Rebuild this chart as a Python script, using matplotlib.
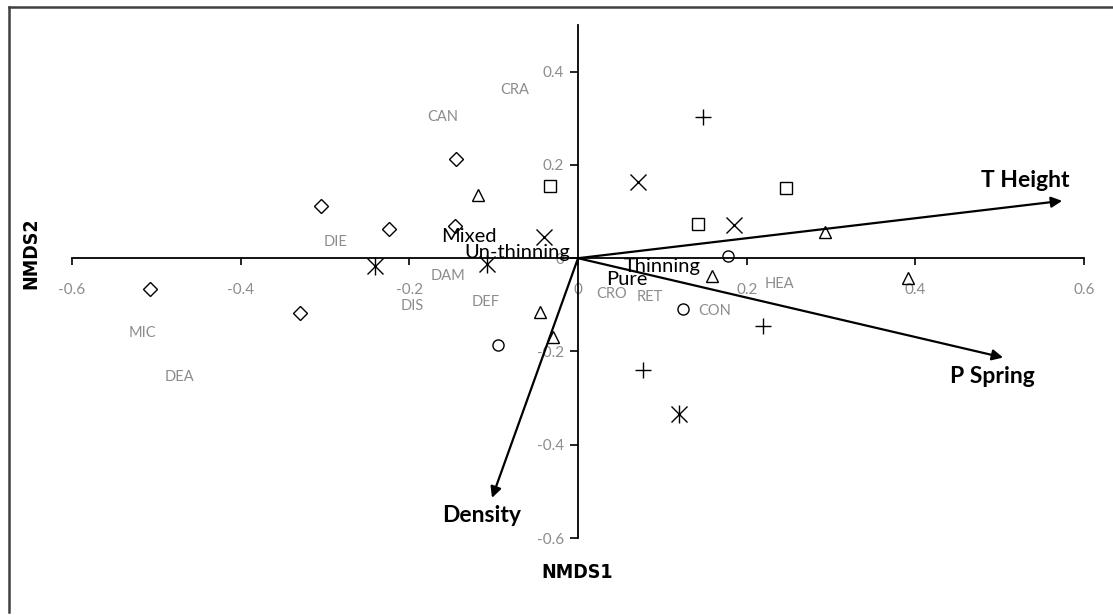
import matplotlib
matplotlib.use("Agg")
import matplotlib.pyplot as plt
from matplotlib.lines import Line2D

# site scores by group (NMDS1, NMDS2)
diamond_x = [-0.305, -0.224, -0.145, -0.146, -0.507, -0.330]
diamond_y = [0.112, 0.062, 0.213, 0.069, -0.065, -0.118]
triangle_x = [-0.119, 0.159, 0.293, 0.391, -0.045, -0.030]
triangle_y = [0.135, -0.039, 0.056, -0.043, -0.115, -0.170]
square_x = [-0.033, 0.142, 0.247]
square_y = [0.155, 0.073, 0.150]
cross_x = [0.071, 0.185, -0.040]
cross_y = [0.163, 0.071, 0.045]
plus_x = [0.148, 0.077, 0.219]
plus_y = [0.303, -0.239, -0.146]
star_x = [-0.241, -0.108, 0.120]
star_y = [-0.017, -0.013, -0.335]
circle_x = [0.178, 0.124, -0.095]
circle_y = [0.004, -0.110, -0.187]

# species scores
species = ["CRA", "CAN", "DIE", "DAM", "DIS", "DEF", "CRO", "RET", "CON", "HEA", "MIC", "DEA"]
species_x = [-0.075, -0.161, -0.288, -0.154, -0.197, -0.110, 0.040, 0.085, 0.162, 0.239, -0.517, -0.473]
species_y = [0.361, 0.303, 0.034, -0.039, -0.103, -0.094, -0.077, -0.084, -0.114, -0.056, -0.161, -0.254]

# factor centroids
factors = ["Mixed", "Un-thinning", "Thinning", "Pure"]
factor_x = [-0.130, -0.072, 0.100, 0.058]
factor_y = [0.047, 0.013, -0.017, -0.045]

# environmental vectors
env_names = ["T Height", "P Spring", "Density"]
env_x = [0.574, 0.504, -0.102]
env_y = [0.123, -0.213, -0.514]
env_lab_x = [0.530, 0.491, -0.114]
env_lab_y = [0.166, -0.254, -0.551]

grey = "#8c8c8c"
sans = ["Lato", "DejaVu Sans"]
narrow = ["Liberation Sans Narrow", "DejaVu Sans"]

fig = plt.figure(figsize=(11.13, 6.15), dpi=100)
ax = fig.add_axes([0.0647, 0.1252, 0.9093, 0.8341])
ax.set_xlim(-0.6, 0.6)
ax.set_ylim(-0.6, 0.5)

ax.spines["left"].set_position(("data", 0))
ax.spines["bottom"].set_position(("data", 0))
ax.spines["top"].set_visible(False)
ax.spines["right"].set_visible(False)
ax.spines["left"].set_linewidth(1.3)
ax.spines["bottom"].set_linewidth(1.3)

ax.set_xticks([-0.6, -0.4, -0.2, 0, 0.2, 0.4, 0.6])
ax.set_xticklabels(["-0.6", "-0.4", "-0.2", "0", "0.2", "0.4", "0.6"])
ax.set_yticks([-0.6, -0.4, -0.2, 0, 0.2, 0.4])
ax.set_yticklabels(["-0.6", "-0.4", "-0.2", "0", "0.2", "0.4"])
ax.tick_params(axis="x", direction="out", length=5, width=1.2, pad=13, labelsize=11, labelcolor=grey)
ax.tick_params(axis="y", direction="out", length=6, width=1.2, pad=4, labelsize=11, labelcolor=grey)
for t in ax.get_xticklabels() + ax.get_yticklabels():
    t.set_family(sans)

mk = dict(linestyle="none", color="black", markerfacecolor="none", markeredgewidth=1.0, zorder=3)
ax.plot(diamond_x, diamond_y, marker="D", markersize=7, **mk)
ax.plot(triangle_x, triangle_y, marker="^", markersize=9, **mk)
ax.plot(square_x, square_y, marker="s", markersize=8, **mk)
ax.plot(cross_x, cross_y, marker="x", markersize=11, **mk)
ax.plot(plus_x, plus_y, marker="+", markersize=12, **mk)
ax.plot(star_x, star_y, marker="x", markersize=11, **mk)
ax.plot(star_x, star_y, marker="|", markersize=13, **mk)
ax.plot(circle_x, circle_y, marker="o", markersize=8, **mk)

for i in range(len(species)):
    ax.text(species_x[i], species_y[i], species[i], color=grey, fontsize=10.5,
            family=sans, ha="center", va="center")

for i in range(len(factors)):
    ax.text(factor_x[i], factor_y[i], factors[i], color="black", fontsize=14.5,
            family=sans, ha="center", va="center", zorder=4)

for i in range(len(env_names)):
    ax.annotate("", xy=(env_x[i], env_y[i]), xytext=(0, 0),
                arrowprops=dict(arrowstyle="-|>", color="black", lw=1.6,
                                mutation_scale=16, shrinkA=0, shrinkB=0))
    ax.text(env_lab_x[i], env_lab_y[i], env_names[i], color="black", fontsize=16.5,
            fontweight="bold", family=sans, ha="center", va="center")

fig.text(577 / 1113, 1 - 573 / 615, "NMDS1", fontsize=14, fontweight="bold",
         fontstretch="condensed", family=narrow, ha="center", va="center")
fig.text(31 / 1113, 1 - 253 / 615, "NMDS2", fontsize=14, fontweight="bold", rotation=90,
         fontstretch="condensed", family=narrow, ha="center", va="center")

# chart border (left and top visible)
fig.add_artist(Line2D([9 / 1113, 9 / 1113], [0.005, 1 - 7 / 615], color="#404040", lw=1.8))
fig.add_artist(Line2D([9 / 1113, 0.999], [1 - 7 / 615, 1 - 7 / 615], color="#404040", lw=1.8))

fig.savefig("out.png", dpi=100)
